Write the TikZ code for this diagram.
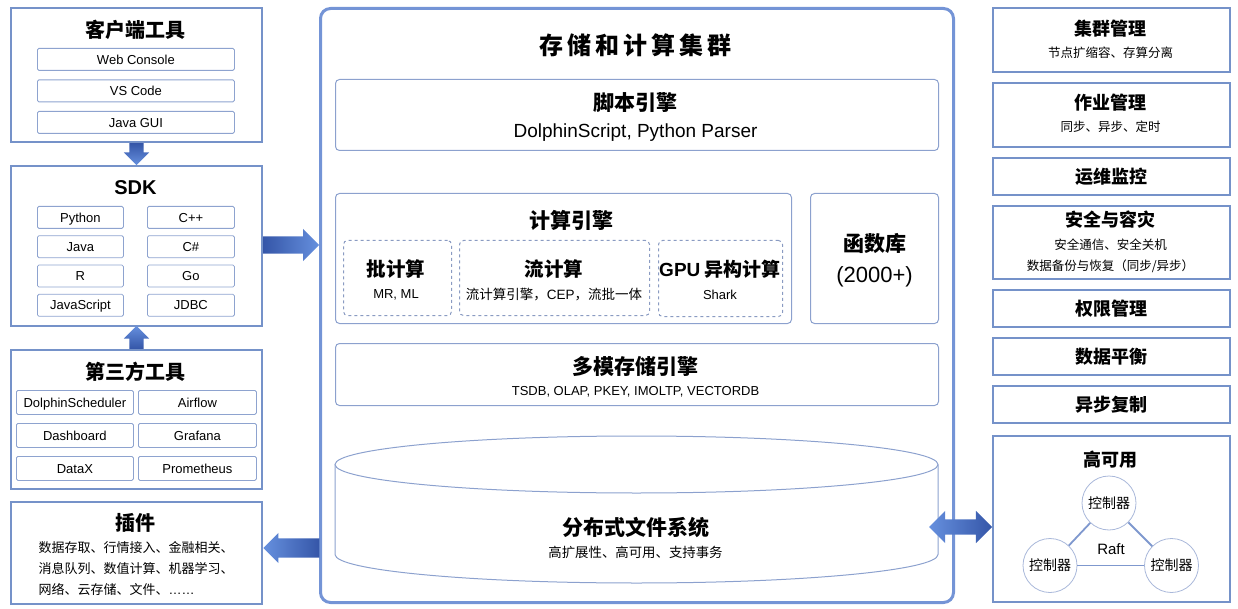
\documentclass[tikz,border=0pt]{standalone}
\usepackage{fontspec}
\setmainfont{Liberation Sans}
\newfontfamily\cjk{Noto Sans CJK SC}
\usetikzlibrary{arrows.meta,positioning,shapes.arrows,calc}
\newcommand{\fsz}[1]{\fontsize{#1}{#1}\selectfont}
\definecolor{sideblue}{HTML}{7592C9}
\definecolor{itemblue}{HTML}{8EA3CF}
\definecolor{panelblue}{HTML}{8CA1CE}
\definecolor{dashblue}{HTML}{8A9BC2}
\definecolor{clublue}{HTML}{7494D6}
\definecolor{arrdark}{HTML}{3556A8}
\definecolor{arrlight}{HTML}{6690DE}
\definecolor{ringblue}{HTML}{A9B8DA}
\definecolor{linkblue}{HTML}{7F98CE}
\tikzset{
  sidebox/.style={draw=sideblue, line width=2pt, anchor=north west, inner sep=0},
  itembox/.style={draw=itemblue, line width=0.8pt, rounded corners=1.5pt, anchor=north west, inner sep=0,
    text height=9.3pt, text depth=0pt, font=\fsz{13}},
  panel/.style={draw=panelblue, line width=1pt, rounded corners=4pt, anchor=north west, inner sep=0},
  subbox/.style={panel, dashed, draw=dashblue},
  ttl/.style={font=\cjk\bfseries\fsz{20}, inner sep=0},
  ptl/.style={font=\cjk\bfseries\fsz{21}, inner sep=0},
  stl/.style={font=\cjk\bfseries\fsz{19.5}, inner sep=0},
  rtl/.style={font=\cjk\bfseries\fsz{18}, inner sep=0},
  sub/.style={font=\cjk\fsz{12.5}, inner sep=0},
  small/.style={font=\fsz{13}, inner sep=0},
  ctrl/.style={circle, draw=ringblue, line width=0.8pt, fill=white, minimum size=54pt, inner sep=0, font=\cjk\fsz{14}},
  link/.style={draw=linkblue, line width=1.8pt},
  harrow/.style={single arrow, inner xsep=0, inner ysep=8.5pt, single arrow head extend=7.5pt, minimum height=56pt},
  varrow/.style={single arrow, inner ysep=0, inner xsep=7pt, single arrow head extend=5.5pt, minimum height=22pt}
}

\begin{document}
\begin{tikzpicture}[x=1pt, y=-1pt]
\useasboundingbox (0,0) rectangle (1238,609);

% client tools
\node[sidebox, minimum width=251, minimum height=134] (client) at (10,7) {};
\node[ttl] (clientT) at (135.5,30) {客户端工具};
\foreach \t [count=\i from 0] in {Web Console, VS Code, Java GUI}
  \node[itembox, minimum width=197, minimum height=22] (cl\i) at (37,{48+31.5*\i}) {\t};

% sdk
\node[sidebox, minimum width=251, minimum height=160] (sdk) at (10,165) {};
\node[font=\bfseries\fsz{20}, inner sep=0] (sdkT) at (135.5,188) {SDK};
\foreach \a/\b [count=\i from 0] in {Python/C++, Java/C\#, R/Go, JavaScript/JDBC} {
  \node[itembox, minimum width=86, minimum height=22] (sl\i) at (37,{206+29.3*\i}) {\a};
  \node[itembox, minimum width=87, minimum height=22] (sr\i) at (147,{206+29.3*\i}) {\b};
}

% third party tools
\node[sidebox, minimum width=251, minimum height=139] (third) at (10,349) {};
\node[ttl] (thirdT) at (135.5,372) {第三方工具};
\foreach \a/\b [count=\i from 0] in {DolphinScheduler/Airflow, Dashboard/Grafana, DataX/Prometheus} {
  \node[itembox, minimum width=117, minimum height=24] (tl\i) at (16,{390+33*\i}) {\a};
  \node[itembox, minimum width=118, minimum height=24] (tr\i) at (138,{390+33*\i}) {\b};
}

% plugins
\node[sidebox, minimum width=251, minimum height=102] (plug) at (10,501) {};
\node[ttl] (plugT) at (135.5,523) {插件};
\node[align=left, font=\cjk\fontsize{13}{21}\selectfont, inner sep=0] (plugX) at (136,569)
  {数据存取、行情接入、金融相关、\\消息队列、数值计算、机器学习、\\网络、云存储、文件、{\normalfont ……}};

% storage and compute cluster
\node[draw=clublue, line width=3pt, rounded corners=10pt, anchor=north west, inner sep=0,
  minimum width=633, minimum height=594] (clu) at (319,7) {};
\node[font=\cjk\bfseries\fsz{24}\addfontfeatures{LetterSpace=17}, inner sep=0] (cluT) at (635.5,45) {存储和计算集群};

\node[panel, minimum width=603, minimum height=71] (script) at (335,79) {};
\node[ptl] (scriptT) at (635.5,103) {脚本引擎};
\node[font=\fsz{19}, inner sep=0] (scriptS) at (635.5,133) {DolphinScript, Python Parser};

\node[panel, minimum width=456, minimum height=130] (comp) at (335,193) {};
\node[ptl] (compT) at (571,220) {计算引擎};
\node[subbox, minimum width=108, minimum height=75] (batch) at (343,240) {};
\node[subbox, minimum width=190, minimum height=75] (stream) at (459,240) {};
\node[subbox, minimum width=124, minimum height=76] (gpu) at (658,240) {};
\node[stl] (batchT) at (396,269) {批计算};
\node[small] (batchS) at (396,295) {MR, ML};
\node[stl] (streamT) at (554,269) {流计算};
\node[sub, font=\cjk\fsz{13.5}] (streamS) at (554,295) {流计算引擎，{\normalfont CEP}，流批一体};
\node[stl, font=\cjk\bfseries\fsz{19}] (gpuT) at (720,269) {{\normalfont\bfseries GPU} 异构计算};
\node[small] (gpuS) at (720,295) {Shark};

\node[panel, minimum width=128, minimum height=130] (func) at (810,193) {};
\node[ptl] (funcT) at (874.5,244) {函数库};
\node[font=\fsz{22}, inner sep=0] (funcS) at (874.5,277) {(2000+)};

\node[panel, minimum width=603, minimum height=62] (store) at (335,343) {};
\node[ptl] (storeT) at (635.5,366) {多模存储引擎};
\node[small] (storeS) at (635.5,392) {TSDB, OLAP, PKEY, IMOLTP, VECTORDB};

% distributed file system (cylinder)
\draw[panelblue, line width=1pt] (335,464.5) -- (335,554.5)
  arc[start angle=180, end angle=360, x radius=301.5pt, y radius=28.5pt] -- (938,464.5);
\draw[panelblue, line width=1pt] (636.5,464.5) ellipse [x radius=301.5pt, y radius=28.5pt];
\node[ptl] (dfsT) at (635.5,527) {分布式文件系统};
\node[sub, font=\cjk\fsz{13.4}] (dfsS) at (635.5,552) {高扩展性、高可用、支持事务};

% management column
\node[sidebox, minimum width=237, minimum height=64] (cm) at (992,7) {};
\node[rtl] (cmT) at (1110.5,29) {集群管理};
\node[sub] (cmS) at (1110.5,53) {节点扩缩容、存算分离};
\node[sidebox, minimum width=237, minimum height=64] (jm) at (992,82) {};
\node[rtl] (jmT) at (1110.5,103) {作业管理};
\node[sub] (jmS) at (1110.5,127) {同步、异步、定时};
\node[sidebox, minimum width=237, minimum height=37, font=\cjk\bfseries\fsz{18}] (ops) at (992,157) {运维监控};
\node[sidebox, minimum width=237, minimum height=73] (sec) at (992,205) {};
\node[rtl] (secT) at (1110.5,220) {安全与容灾};
\node[sub] (secS1) at (1110.5,245) {安全通信、安全关机};
\node[sub] (secS2) at (1110.5,266) {数据备份与恢复（同步/异步）};
\node[sidebox, minimum width=237, minimum height=37, font=\cjk\bfseries\fsz{18}] (auth) at (992,289) {权限管理};
\node[sidebox, minimum width=237, minimum height=37, font=\cjk\bfseries\fsz{18}] (bal) at (992,337) {数据平衡};
\node[sidebox, minimum width=237, minimum height=37, font=\cjk\bfseries\fsz{18}] (rep) at (992,385) {异步复制};

% high availability
\node[sidebox, minimum width=237, minimum height=166] (ha) at (992,435) {};
\node[rtl] (haT) at (1110.5,460) {高可用};
\node[ctrl] (c1) at (1109,503) {控制器};
\node[ctrl] (c2) at (1050,565.5) {控制器};
\node[ctrl] (c3) at (1171.5,565.5) {控制器};
\draw[link] (c1) -- (c2);
\draw[link] (c1) -- (c3);
\draw[link] (c2) -- (c3);
\node[font=\fsz{15}, inner sep=0] (raft) at (1111,549) {Raft};

% block arrows
\node[varrow, shape border rotate=270, top color=arrdark, bottom color=arrlight, anchor=tail] (a1) at (client.south) {};
\node[varrow, shape border rotate=90, top color=arrlight, bottom color=arrdark, anchor=tail, minimum height=23pt] (a2) at (third.north) {};
\node[harrow, left color=arrdark, right color=arrlight, anchor=tail] (a3) at ([yshift=1]sdk.east) {};
\node[harrow, shape border rotate=180, inner ysep=9.5pt, single arrow head extend=5.5pt,
  left color=arrlight, right color=arrdark, anchor=tip] (a4) at ([yshift=5]plug.east) {};
\node[double arrow, inner xsep=0, inner ysep=7.5pt, double arrow head extend=8.5pt, minimum height=63pt,
  left color=arrlight, right color=arrdark] (a5) at ($([yshift=-8]ha.west)+(-31.5,0)$) {};
\end{tikzpicture}
\end{document}
